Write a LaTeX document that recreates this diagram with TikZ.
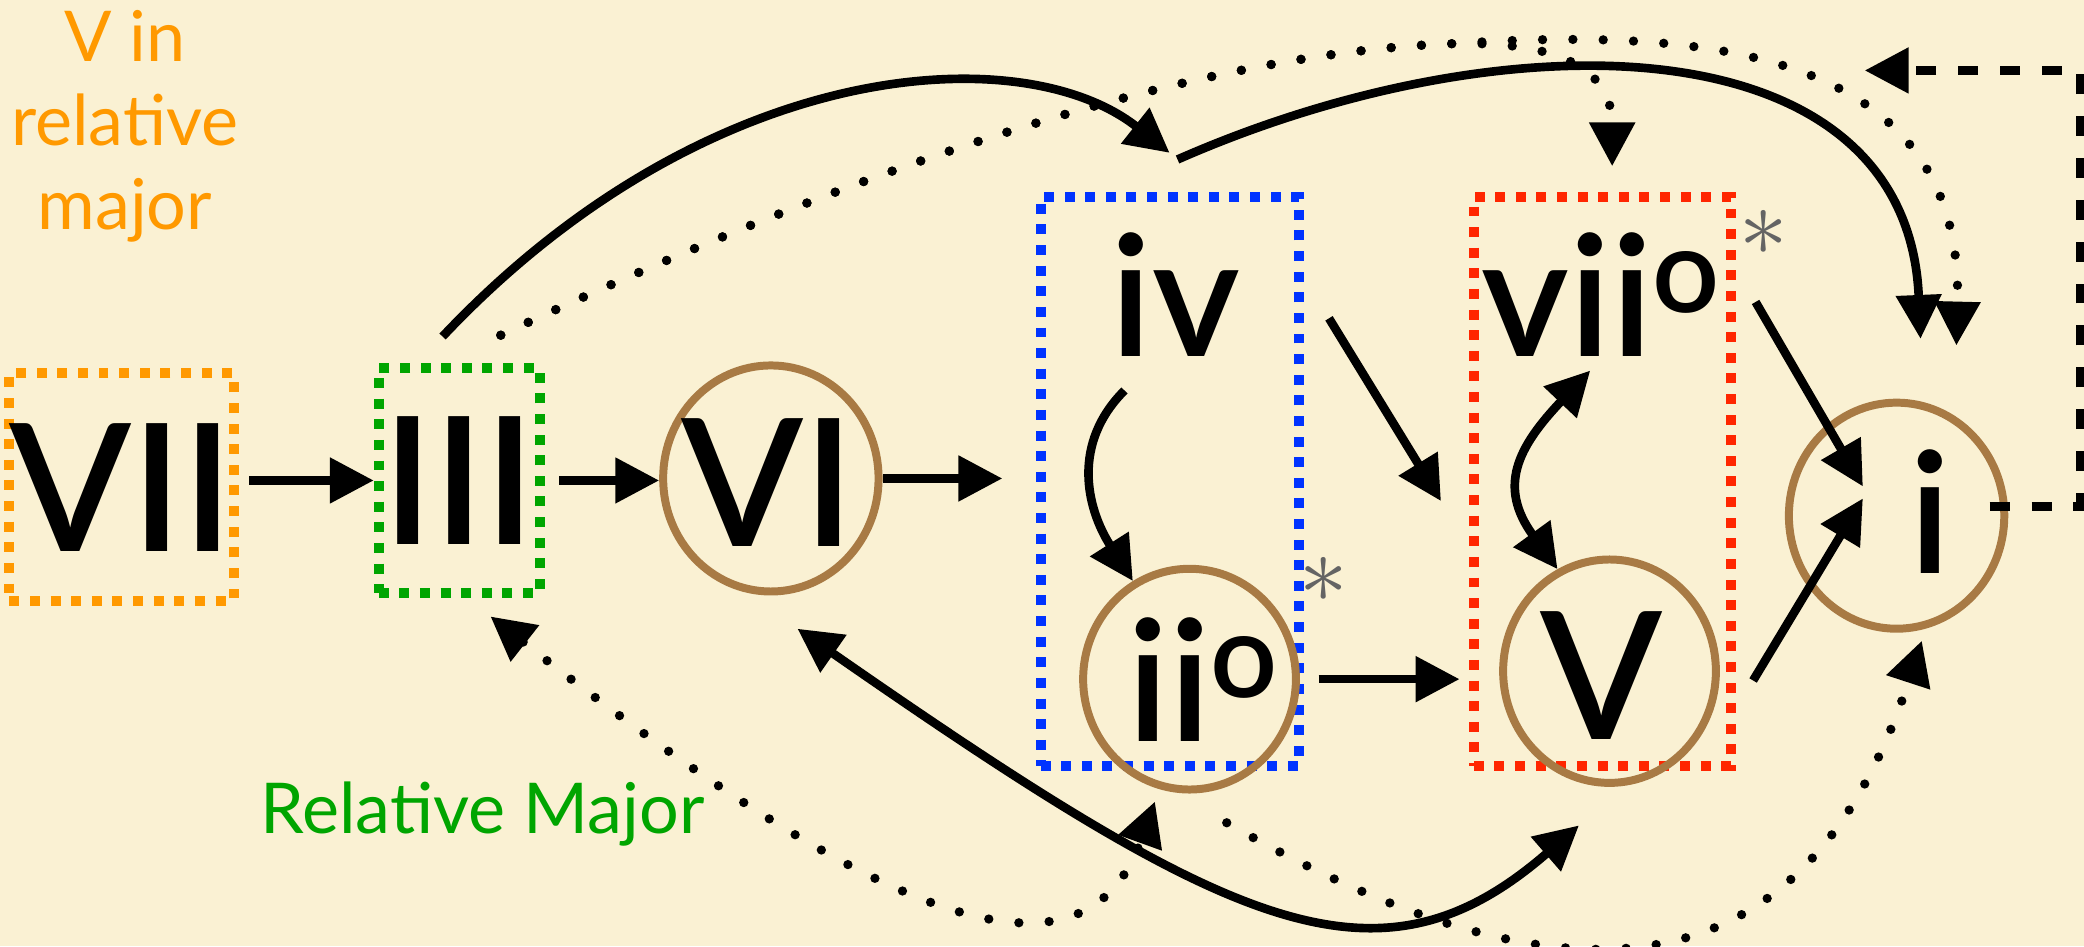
\documentclass[tikz,border=0pt]{standalone}
\usepackage{fontspec}
\setmainfont{Lato}
\newfontfamily\numfont{Lato Semibold}
\usepackage{graphicx}
\usetikzlibrary{arrows.meta, shapes.geometric}
\definecolor{paper}{RGB}{250,241,211}
\definecolor{vorange}{RGB}{255,153,0}
\definecolor{rgreen}{RGB}{0,165,0}
\definecolor{fblue}{RGB}{0,51,255}
\definecolor{fred}{RGB}{255,38,0}
\definecolor{ring}{RGB}{168,122,68}
\definecolor{starc}{RGB}{100,100,100}
\newcommand{\dg}{\raisebox{0.26em}{\scalebox{0.7}{o}}}

\begin{document}
\begin{tikzpicture}[x=0.01cm, y=-0.01cm, >={Triangle[length=3.3mm, width=3.3mm]},
  nm/.style={font=\numfont\fontsize{38}{40}\selectfont, inner sep=0pt},
  lc/.style={font=\numfont\fontsize{36}{38}\selectfont, inner sep=0pt},
  bx/.style={draw, line width=0.075cm, dash pattern=on 0.075cm off 0.08cm, inner sep=0pt},
  rg/.style={draw=ring, line width=0.06cm, ellipse, inner sep=0pt},
  ar/.style={line width=0.065cm},
  dt/.style={line width=0.07cm, line cap=round, dash pattern=on 0pt off 0.228cm},
  ds/.style={line width=0.065cm, dash pattern=on 0.15cm off 0.165cm},
  st/.style={text=starc, font=\fontsize{21}{21}\selectfont, inner sep=0pt},
  lb/.style={font=\fontsize{15}{18}\selectfont, inner sep=0pt}]
\useasboundingbox (0,0) rectangle (1568,712);
\fill[paper] (0,0) rectangle (1568,712);
% chord groups
\node[bx, draw=vorange, nm, minimum width=1.67cm, minimum height=1.71cm] (vii) at (91.5,366.5) {VII};
\node[bx, draw=rgreen, nm, minimum width=1.21cm, minimum height=1.69cm] (iii) at (345.5,361.5) {III};
\node[bx, draw=fblue, minimum width=1.94cm, minimum height=4.28cm] (sub) at (880,362) {};
\node[bx, draw=fred, minimum width=1.93cm, minimum height=4.28cm] (dom) at (1205.5,362) {};
\node[rg, minimum width=1.62cm, minimum height=1.70cm] (rvi) at (580,360) {};
\node[rg, minimum width=1.60cm, minimum height=1.66cm] (rii) at (895,511) {};
\node[rg, minimum width=1.60cm, minimum height=1.68cm] (rv) at (1211,505) {};
\node[rg, minimum width=1.62cm, minimum height=1.70cm] (ri) at (1427,388) {};
\node[nm] (vi) at (578,363) {VI};
\node[lc] (iv) at (884.5,221.5) {iv};
\node[lc] (ii) at (905,511) {ii\dg};
\node[lc] (viio) at (1204.5,221.5) {vii\dg};
\node[nm] (v) at (1205,508.5) {V};
\node[lc] (i) at (1452,385) {i};
\node[st] (s1) at (996,436) {$\ast$};
\node[st] (s2) at (1327,175) {$\ast$};
\node[lb, text=vorange, align=center, anchor=north] (vrel) at (94,7) {V in\\relative\\major};
\node[lb, text=rgreen, anchor=base] (relmaj) at (363,627) {Relative Major};
% straight moves
\draw[ar, ->, shorten <=0.08cm] (vii.east |- iii.west) -- (iii.west);
\draw[ar, ->, shorten <=0.11cm] (iii.east) -- (rvi.west |- iii.east);
\draw[ar, ->, shorten >=0.25cm] (rvi.east) -- (rvi.east -| sub.west);
\draw[ar, ->] ([shift={(11,25)}]iv.south west) .. controls +(-40,40) and +(-35,-55) .. (rii.120);
\draw[ar, ->] ([shift={(66,18)}]iv.east) -- ([shift={(-21,15)}]dom.west);
\draw[ar, ->, shorten <=0.14cm, shorten >=0.07cm] (rii.east) -- (rii.east -| dom.west);
\draw[ar, <->] ([shift={(-8,10)}]viio.south) .. controls +(-55,58) and +(-45,-62) .. (rv.117);
\draw[ar, ->] ([shift={(26,53)}]viio.north east) -- ([shift={(-34,-19)}]i.west);
\draw[ar, ->] ([shift={(25,7)}]rv.east) -- ([shift={(-34,-10)}]i.west);
% top arcs
\coordinate (hinge) at (880,115);
\coordinate (onward) at (886,120);
\coordinate (crest) at (1090,33);
\draw[ar, ->] ([shift={(-12.5,-20)}]iii.north) .. controls +(200,-212) and +(-110,-87) .. (hinge);
\draw[ar, ->] (onward) .. controls +(250,-110) and +(-10,-238) .. ([shift={(18,-45)}]ri.north);
\draw[dt, ->] ([shift={(-33,-21)}]iii.north east) .. controls +(267,-126) and +(-190,7) .. (crest)
  .. controls +(90,-3) and +(0,-69) .. ([shift={(7.5,-19)}]dom.north);
\draw[dt, ->] ([shift={(-33,-21)}]iii.north east) .. controls +(267,-126) and +(-190,7) .. (crest)
  .. controls +(170,-11) and +(6,-233) .. ([shift={(45,-40)}]ri.north);
% return to the top
\coordinate (ret) at (1565,53);
\coordinate (back) at (1403,53);
\draw[ds, ->] ([shift={(-14,-7)}]ri.east) -| (ret) -- (back);
% bottom arcs
\draw[ar, <->] ([shift={(20,25)}]rvi.south) .. controls +(328,228) and +(-151,131) .. ([shift={(-23,29)}]rv.south);
\draw[dt, <->] ([shift={(23.5,14)}]iii.south) .. controls +(245,192) and +(-61,169) .. ([shift={(-26,6)}]rii.south);
\draw[dt, ->] ([shift={(28,22)}]rii.south) .. controls +(261,150) and +(-87,266) .. ([shift={(19,6)}]ri.south);
\end{tikzpicture}
\end{document}
